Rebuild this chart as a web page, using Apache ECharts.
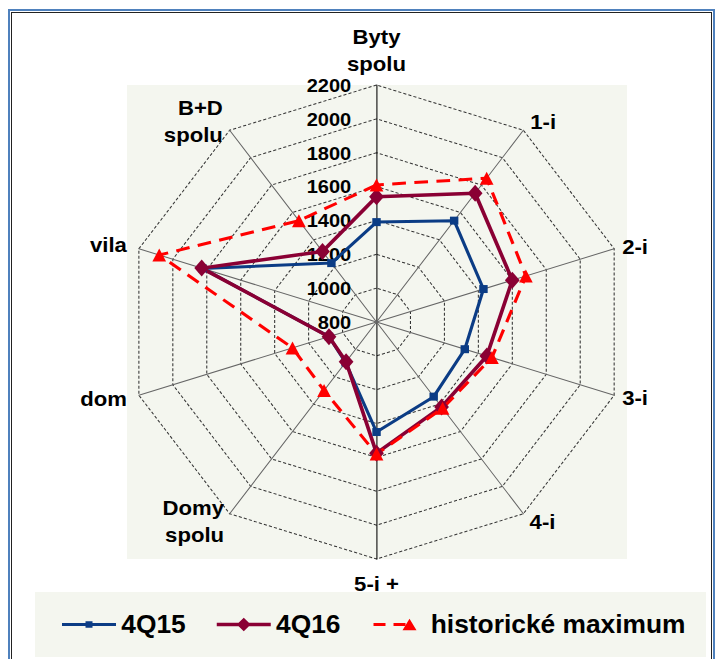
<!DOCTYPE html>
<html>
<head>
<meta charset="utf-8">
<script src="https://cdn.jsdelivr.net/npm/echarts@6/dist/echarts.min.js"></script>
<style>
  html, body { margin: 0; padding: 0; background: #fff; }
  #frame { position: absolute; left: 8px; top: 9px; width: 703px; height: 660px; border: 2px solid #4f81bd; border-bottom: none; }
  #frameIn { position: absolute; left: 11px; top: 12px; width: 699px; height: 660px; border: 1px solid #222; border-bottom: none; }
  /* the original chart is a little wider than tall, so the whole drawing is stretched sideways */
  #chart { position: absolute; left: 0; top: 0; width: 682px; height: 659px; transform-origin: 0 0; transform: scaleX(1.0543); }
</style>
</head>
<body>
<div id="frame"></div>
<div id="frameIn"></div>
<div id="chart"></div>
<script>
// categories clockwise from the top, as in the picture
const categories = ['Byty\nspolu', '1-i', '2-i', '3-i', '4-i', '5-i +', 'Domy\nspolu', 'dom', 'vila', 'B+D\nspolu'];
const q15 = [1390, 1540, 1430, 1320, 1345, 1450, 1095, 1080, 1825, 1230];
const q16 = [1540, 1740, 1600, 1450, 1420, 1575, 1090, 1080, 1830, 1315];
const histMax = [1610, 1850, 1680, 1480, 1430, 1580, 1300, 1295, 2080, 1540];
const seriesNames = ['4Q15', '4Q16', 'historické maximum'];
const axisMin = 800, axisMax = 2200, axisSplits = 7;

const FONT = '"Liberation Sans", Arial, sans-serif';
const C15 = '#0b3c85', C16 = '#8a0034', CMAX = '#ff0000';
const S = 719 / 682; // horizontal stretch of the chart div
const X = px => px / S; // screen x -> chart x

// gap between the outer ring and each name
const nameGaps = [8, 11, 8, 8, 10, 11, 9, 12, 12, 11];

// echarts lays radar indicators counter-clockwise, the picture goes clockwise
const ccw = arr => [arr[0]].concat(arr.slice(1).reverse());

const gapsCcw = ccw(nameGaps);
const indicator = ccw(categories).map((name, i) => {
  const vertical = name === 'Byty\nspolu' || name === '5-i +';
  return {
    name: name,
    min: axisMin,
    max: axisMax,
    nameGap: gapsCcw[i],
    nameMoveOverlap: false,
    axisLine: { show: true, lineStyle: { color: vertical ? '#000' : '#666', width: 1 } },
    axisLabel: i === 0
      ? { show: true, color: '#000', fontSize: 19, fontWeight: 'bold', fontFamily: FONT, margin: 24, formatter: v => String(v) }
      : { show: false }
  };
});

// legend icons: line + marker, degenerate corner points pin the box to 54x16
const box = 'M0,0 L0.01,0 Z M54,16 L53.99,16 Z ';
const icon15 = 'path://' + box + 'M0,6.5 L54,6.5 L54,9.5 L0,9.5 Z M23.5,4.5 L30.5,4.5 L30.5,11.5 L23.5,11.5 Z';
const icon16 = 'path://' + box + 'M0,6.2 L54,6.2 L54,9.8 L0,9.8 Z M27,1 L34,8 L27,15 L20,8 Z';
const iconMax = 'path://' + box + 'M2,6.5 L14,6.5 L14,9.5 L2,9.5 Z M22,9.5 L34,9.5 L34,6.5 L22,6.5 Z M38,2 L45,14 L31,14 Z';

const chart = echarts.init(document.getElementById('chart'), null, { renderer: 'svg' });
chart.setOption({
  animation: false,
  textStyle: { fontFamily: FONT },
  graphic: [
    { type: 'rect', z: -10, shape: { x: X(127), y: 85, width: X(500), height: 474 }, style: { fill: '#f4f6ef' } },
    { type: 'rect', z: -10, shape: { x: X(35), y: 592, width: X(671), height: 65 }, style: { fill: '#f4f6ef' } }
  ],
  legend: {
    left: X(62),
    top: 612,
    padding: 0,
    itemWidth: X(54),
    itemHeight: 16,
    itemGap: X(31),
    textStyle: { color: '#000', fontSize: 25, fontWeight: 'bold', fontFamily: FONT },
    data: [
      { name: seriesNames[0], icon: icon15, itemStyle: { color: C15, borderWidth: 0 } },
      { name: seriesNames[1], icon: icon16, itemStyle: { color: C16, borderWidth: 0 } },
      { name: seriesNames[2], icon: iconMax, itemStyle: { color: CMAX, borderWidth: 0 } }
    ]
  },
  radar: {
    center: [X(376.5), 322],
    radius: 237,
    startAngle: 90,
    splitNumber: axisSplits,
    shape: 'polygon',
    axisName: { color: '#000', fontSize: 21, fontWeight: 'bold', fontFamily: FONT, lineHeight: 27 },
    splitLine: { lineStyle: { color: '#333', width: 1, type: [3, 2] } },
    splitArea: { show: false },
    indicator: indicator
  },
  series: [{
    type: 'radar',
    data: [
      {
        name: seriesNames[0], value: ccw(q15),
        symbol: 'rect', symbolSize: 8,
        lineStyle: { color: C15, width: 3 },
        itemStyle: { color: C15 }
      },
      {
        name: seriesNames[1], value: ccw(q16),
        symbol: 'diamond', symbolSize: [14, 17],
        lineStyle: { color: C16, width: 3.5 },
        itemStyle: { color: C16 }
      },
      {
        name: seriesNames[2], value: ccw(histMax),
        symbol: 'triangle', symbolSize: 13,
        lineStyle: { color: CMAX, width: 3, type: [13, 8] },
        itemStyle: { color: CMAX }
      }
    ]
  }]
});
</script>
</body>
</html>
